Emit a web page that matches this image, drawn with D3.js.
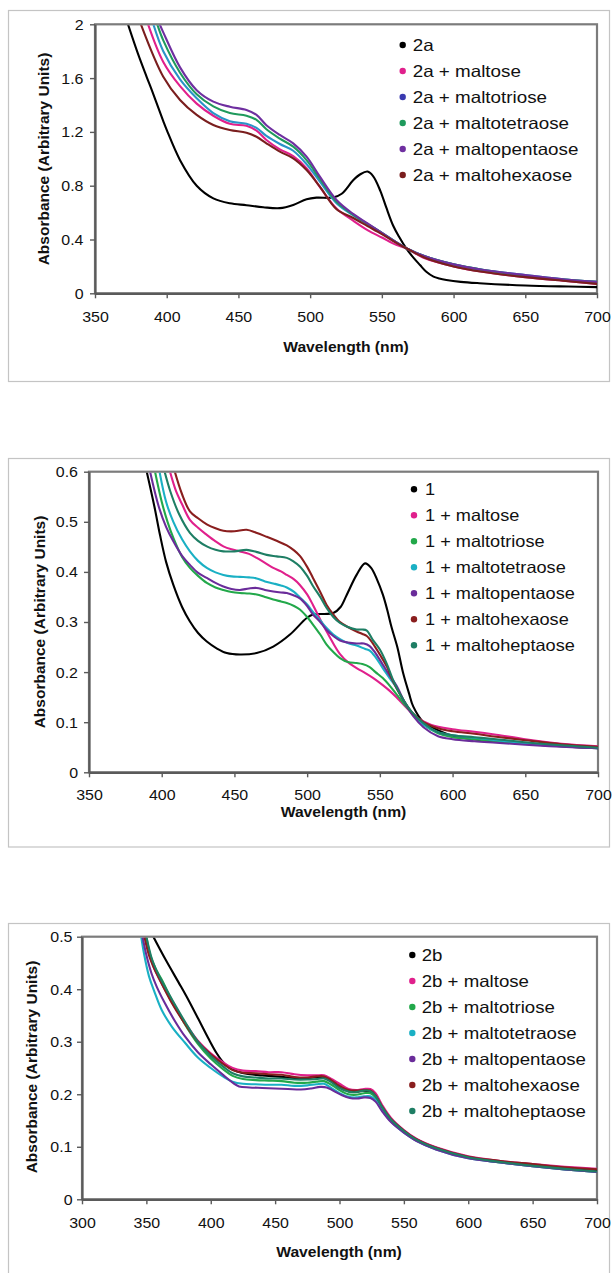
<!DOCTYPE html>
<html><head><meta charset="utf-8">
<script src="https://cdn.jsdelivr.net/npm/d3@7"></script>
<style>html,body{margin:0;padding:0;background:#fff;}</style>
</head><body>
<script>
// ---------------- DATA ----------------
// Panel 1 (2a)
const p1XTicks = [350,400,450,500,550,600,650,700];
const p1YTicks = [0,0.4,0.8,1.2,1.6,2];
const p1YLabels = ["0","0.4","0.8","1.2","1.6","2"];
const p1Names = ["2a","2a + maltose","2a + maltotriose","2a + maltotetraose","2a + maltopentaose","2a + maltohexaose"];
const p1Colors = ["#000000","#e0208c","#2a93c8","#1f9a5c","#6f2fa0","#7a1e1e"];
const p1Dots = ["#000000","#e0208c","#3a3ab0","#1f9a5c","#6f2fa0","#7a1e1e"];
const p1_2a = [[373,2.0],[380,1.78],[386,1.61],[390,1.5],[397.6,1.28],[400,1.215],[409.3,0.99],[420.9,0.8],[432.5,0.706],[444,0.669],[455.6,0.655],[467.3,0.64],[478.9,0.633],[488.2,0.657],[497.5,0.699],[504.4,0.711],[516,0.712],[522,0.74],[530,0.84],[535,0.885],[540,0.905],[544,0.87],[549,0.76],[553,0.64],[558,0.5],[562,0.42],[567,0.334],[572,0.265],[576.6,0.21],[581,0.16],[586,0.124],[590,0.11],[595,0.099],[605,0.085],[618,0.075],[650,0.058],[680,0.05],[700,0.046]];
const p1_maltose = [[387,2.0],[397.6,1.72],[409.3,1.54],[420.9,1.41],[432.5,1.32],[444,1.26],[455.6,1.245],[462.6,1.21],[469.5,1.14],[478.9,1.07],[488.2,1.02],[497.5,0.93],[506.8,0.79],[518.4,0.63],[530,0.54],[540,0.47],[550,0.415],[560,0.36],[567,0.335],[580,0.26],[600,0.2],[620,0.16],[650,0.12],[680,0.09],[700,0.07]];
const p1_maltotriose = [[390.7,2.0],[397.6,1.8],[409.3,1.59],[420.9,1.45],[432.5,1.34],[444,1.28],[455.6,1.26],[462.6,1.23],[469.5,1.17],[478.9,1.11],[488.2,1.06],[497.5,0.96],[506.8,0.83],[518.4,0.67],[530,0.58],[540,0.515],[550,0.45],[560,0.38],[567,0.335],[580,0.275],[600,0.215],[620,0.175],[650,0.135],[680,0.1],[700,0.085]];
const p1_maltotetraose = [[393.4,2.0],[397.6,1.88],[409.3,1.64],[420.9,1.48],[432.5,1.39],[444,1.34],[455.6,1.32],[462.6,1.29],[469.5,1.22],[478.9,1.15],[488.2,1.09],[497.5,0.99],[506.8,0.85],[518.4,0.68],[530,0.585],[540,0.515],[550,0.45],[560,0.38],[567,0.335],[580,0.275],[600,0.215],[620,0.175],[650,0.13],[680,0.1],[700,0.085]];
const p1_maltopentaose = [[395.1,2.0],[397.6,1.94],[409.3,1.68],[420.9,1.51],[432.5,1.425],[444,1.387],[455.6,1.363],[462.6,1.326],[469.5,1.25],[478.9,1.177],[488.2,1.115],[497.5,1.016],[506.8,0.867],[518.4,0.694],[530,0.59],[540,0.52],[550,0.45],[560,0.38],[567,0.335],[580,0.275],[600,0.215],[620,0.175],[650,0.135],[680,0.1],[700,0.085]];
const p1_maltohexaose = [[382,2.0],[397.6,1.61],[409.3,1.437],[420.9,1.326],[432.5,1.251],[444,1.214],[455.6,1.194],[462.6,1.164],[469.5,1.115],[478.9,1.053],[488.2,1.004],[497.5,0.917],[506.8,0.793],[518.4,0.625],[530,0.56],[540,0.5],[550,0.44],[560,0.375],[567,0.335],[580,0.265],[600,0.2],[620,0.16],[650,0.12],[680,0.09],[700,0.07]];

// Panel 2 (1)
const p2XTicks = [350,400,450,500,550,600,650,700];
const p2YTicks = [0,0.1,0.2,0.3,0.4,0.5,0.6];
const p2YLabels = ["0","0.1","0.2","0.3","0.4","0.5","0.6"];
const p2Names = ["1","1 + maltose","1 + maltotriose","1 + maltotetraose","1 + maltopentaose","1 + maltohexaose","1 + maltoheptaose"];
const p2Colors = ["#000000","#e0208c","#22a84a","#1ab0c4","#6a2c9a","#8a1e1e","#1e7e64"];
const p2_1 = [[389.7,0.6],[395,0.53],[398.8,0.474],[403,0.42],[408,0.374],[414,0.33],[419.4,0.301],[425,0.278],[431,0.261],[438,0.247],[444.7,0.238],[453.8,0.235],[465.3,0.238],[476.7,0.251],[488.2,0.275],[499.7,0.308],[504,0.315],[512,0.316],[518,0.318],[523,0.33],[527.2,0.354],[534,0.394],[539.8,0.417],[544,0.408],[548,0.385],[552,0.355],[555,0.325],[558,0.29],[562,0.25],[566,0.198],[570,0.158],[573,0.131],[580,0.1],[587,0.088],[600,0.073],[620,0.064],[650,0.057],[680,0.051],[700,0.048]];
const p2_maltose = [[405.7,0.6],[410,0.56],[414,0.535],[419.4,0.504],[425,0.488],[431,0.474],[437,0.461],[442.4,0.451],[448,0.445],[453.8,0.441],[460,0.436],[465.3,0.428],[471,0.418],[476.7,0.408],[482,0.401],[486,0.394],[491,0.385],[495,0.374],[500,0.355],[504,0.334],[509,0.305],[513.4,0.281],[518,0.257],[522.6,0.236],[528,0.22],[534,0.208],[540,0.198],[545.5,0.188],[552,0.174],[557,0.162],[562,0.148],[568,0.13],[575,0.11],[585,0.095],[600,0.086],[615,0.081],[630,0.075],[650,0.066],[675,0.057],[700,0.052]];
const p2_maltotriose = [[395.4,0.6],[400,0.54],[404,0.5],[408,0.468],[414,0.43],[419.4,0.408],[425,0.392],[431,0.378],[437,0.369],[442.4,0.364],[448,0.36],[453.8,0.358],[460,0.357],[465.3,0.355],[471,0.35],[476.7,0.345],[482,0.341],[486,0.338],[491,0.332],[495,0.325],[500,0.31],[504,0.295],[509,0.275],[513.4,0.255],[518,0.24],[522.6,0.228],[528,0.22],[534,0.218],[538,0.216],[543,0.21],[547,0.2],[552,0.188],[557,0.172],[561.6,0.155],[567,0.135],[573,0.115],[580,0.095],[590,0.078],[600,0.07],[615,0.066],[630,0.062],[650,0.057],[675,0.052],[700,0.049]];
const p2_maltotetraose = [[398.5,0.6],[403,0.54],[408,0.5],[414,0.465],[419.4,0.441],[425,0.422],[431,0.408],[437,0.399],[442.4,0.394],[448,0.391],[453.8,0.39],[460,0.389],[465.3,0.387],[471,0.381],[476.7,0.377],[482,0.373],[486,0.369],[491,0.36],[495,0.349],[500,0.335],[504,0.32],[509,0.303],[513.4,0.288],[518,0.275],[522.6,0.266],[528,0.258],[534,0.253],[540,0.246],[543,0.243],[547,0.23],[552,0.208],[557,0.187],[561.6,0.168],[567,0.14],[573,0.115],[580,0.095],[590,0.08],[600,0.074],[615,0.069],[630,0.064],[650,0.058],[675,0.053],[700,0.048]];
const p2_maltopentaose = [[392,0.6],[398,0.53],[403,0.49],[408,0.461],[414,0.432],[419.4,0.414],[425,0.398],[431,0.388],[437,0.378],[442.4,0.371],[448,0.366],[453.8,0.364],[460,0.367],[465.3,0.368],[471,0.364],[476.7,0.361],[482,0.359],[486,0.358],[491,0.353],[495,0.347],[500,0.332],[504,0.315],[509,0.3],[513.4,0.284],[518,0.272],[522.6,0.263],[528,0.259],[534,0.257],[539,0.257],[543,0.252],[547,0.238],[552,0.215],[557,0.192],[561.6,0.172],[567,0.14],[573,0.112],[580,0.09],[590,0.072],[600,0.066],[615,0.062],[630,0.059],[650,0.055],[675,0.051],[700,0.048]];
const p2_maltohexaose = [[409,0.6],[414,0.555],[419.4,0.521],[425,0.507],[431,0.495],[437,0.487],[442.4,0.482],[450,0.481],[458.4,0.484],[465,0.478],[472.2,0.47],[479,0.462],[486,0.453],[491,0.443],[495,0.432],[500,0.41],[504,0.388],[509,0.36],[513.4,0.334],[518,0.315],[522.6,0.3],[528,0.29],[534,0.281],[538,0.276],[541,0.272],[545,0.258],[550,0.235],[555,0.21],[559,0.182],[565,0.15],[572,0.12],[580,0.1],[590,0.088],[600,0.082],[615,0.077],[630,0.071],[650,0.064],[675,0.056],[700,0.051]];
const p2_maltoheptaose = [[402,0.6],[406,0.56],[412,0.515],[419.4,0.478],[425,0.462],[431,0.451],[437,0.444],[442.4,0.441],[450,0.441],[458.4,0.444],[465,0.44],[472.2,0.434],[479,0.431],[486,0.428],[491,0.42],[495,0.411],[500,0.392],[504,0.372],[509,0.35],[513.4,0.328],[518,0.31],[522.6,0.298],[528,0.29],[534,0.285],[538,0.285],[541,0.283],[545,0.265],[550,0.245],[555,0.215],[559,0.185],[565,0.15],[572,0.12],[580,0.098],[590,0.08],[600,0.074],[615,0.07],[630,0.066],[650,0.06],[675,0.054],[700,0.049]];

// Panel 3 (2b)
const p3XTicks = [300,350,400,450,500,550,600,650,700];
const p3YTicks = [0,0.1,0.2,0.3,0.4,0.5];
const p3YLabels = ["0","0.1","0.2","0.3","0.4","0.5"];
const p3Names = ["2b","2b + maltose","2b + maltotriose","2b + maltotetraose","2b + maltopentaose","2b + maltohexaose","2b + maltoheptaose"];
const p3Colors = ["#000000","#e0208c","#22a84a","#1ab0c4","#6a2c9a","#8a1e1e","#1e7e64"];
const p3_2b = [[355.4,0.5],[365,0.456],[375,0.413],[381,0.387],[390,0.345],[398,0.307],[404.6,0.278],[410,0.26],[415,0.25],[420,0.244],[430,0.238],[440,0.236],[450,0.234],[460,0.232],[470,0.23],[480,0.232],[487,0.232],[493,0.226],[500,0.214],[507,0.206],[513,0.205],[519,0.207],[524,0.205],[528,0.195],[533,0.175],[540,0.152],[550,0.13],[560,0.114],[575,0.098],[600,0.08],[625,0.072],[650,0.066],[675,0.06],[700,0.055]];
const p3_maltose = [[349,0.5],[352,0.47],[356,0.44],[360,0.42],[370,0.375],[380,0.336],[390,0.302],[400,0.278],[410,0.26],[417,0.25],[425,0.245],[435,0.244],[445,0.242],[455,0.242],[465,0.238],[475,0.236],[482,0.236],[488,0.236],[493,0.23],[500,0.22],[507,0.21],[513,0.208],[519,0.21],[524,0.21],[528,0.202],[533,0.18],[540,0.155],[550,0.132],[560,0.115],[575,0.099],[600,0.082],[625,0.073],[650,0.067],[675,0.062],[700,0.058]];
const p3_maltotriose = [[350,0.5],[353,0.465],[357,0.44],[362,0.418],[370,0.378],[380,0.333],[390,0.296],[400,0.268],[410,0.247],[417,0.235],[425,0.229],[435,0.227],[445,0.226],[455,0.225],[465,0.222],[475,0.222],[482,0.224],[488,0.225],[493,0.219],[500,0.208],[507,0.2],[513,0.199],[519,0.202],[524,0.202],[528,0.194],[533,0.174],[540,0.15],[550,0.129],[560,0.112],[575,0.096],[600,0.079],[625,0.07],[650,0.063],[675,0.057],[700,0.052]];
const p3_maltotetraose = [[346,0.5],[348,0.47],[352,0.425],[356,0.397],[362,0.36],[370,0.328],[380,0.298],[390,0.27],[400,0.25],[410,0.233],[417,0.224],[425,0.22],[435,0.219],[445,0.218],[455,0.218],[465,0.216],[475,0.217],[482,0.219],[488,0.22],[493,0.213],[500,0.202],[507,0.195],[513,0.194],[519,0.196],[524,0.196],[528,0.189],[533,0.17],[540,0.148],[550,0.127],[560,0.111],[575,0.095],[600,0.078],[625,0.07],[650,0.063],[675,0.057],[700,0.052]];
const p3_maltopentaose = [[347,0.5],[350,0.465],[354,0.43],[358,0.405],[364,0.375],[372,0.34],[380,0.31],[390,0.28],[400,0.257],[410,0.236],[417,0.222],[422,0.215],[430,0.213],[440,0.212],[450,0.211],[460,0.21],[470,0.209],[478,0.211],[485,0.214],[490,0.213],[495,0.207],[502,0.198],[508,0.193],[514,0.192],[519,0.194],[524,0.193],[528,0.186],[533,0.168],[540,0.147],[550,0.127],[560,0.111],[575,0.095],[600,0.078],[625,0.07],[650,0.063],[675,0.057],[700,0.052]];
const p3_maltohexaose = [[348.5,0.5],[352,0.465],[356,0.44],[360,0.42],[370,0.373],[380,0.334],[390,0.3],[400,0.276],[410,0.257],[417,0.246],[425,0.241],[435,0.24],[445,0.238],[455,0.237],[465,0.233],[475,0.232],[482,0.234],[488,0.234],[493,0.228],[500,0.216],[507,0.208],[513,0.207],[519,0.208],[524,0.207],[528,0.198],[533,0.177],[540,0.153],[550,0.131],[560,0.114],[575,0.098],[600,0.081],[625,0.073],[650,0.067],[675,0.061],[700,0.057]];
const p3_maltoheptaose = [[350,0.5],[354,0.46],[358,0.435],[362,0.415],[370,0.38],[380,0.338],[390,0.3],[400,0.273],[410,0.252],[417,0.24],[425,0.234],[435,0.232],[445,0.23],[455,0.23],[465,0.228],[475,0.228],[482,0.229],[488,0.23],[493,0.224],[500,0.212],[507,0.205],[513,0.204],[519,0.207],[524,0.206],[528,0.197],[533,0.176],[540,0.152],[550,0.13],[560,0.113],[575,0.097],[600,0.08],[625,0.071],[650,0.064],[675,0.058],[700,0.053]];

const xTitleText = "Wavelength (nm)";
const yTitleText = "Absorbance (Arbitrary Units)";

// ---------------- DRAWING ----------------
const FONT = '"Liberation Sans", Arial, Helvetica, sans-serif';
const svg = d3.select("body").append("svg").attr("width",613).attr("height",1273)
  .style("display","block").style("background","#fff");

function stretch(sel, k){
  sel.each(function(){
    const w = this.getComputedTextLength();
    this.setAttribute("textLength", (w*k).toFixed(2));
    this.setAttribute("lengthAdjust","spacingAndGlyphs");
  });
}

const panels = [
  {id:1, box:[8.5,10.5,601,371], plot:{l:95,t:24.3,r:597,b:293.3}, xDomain:[350,700], xTicks:p1XTicks,
   yDomain:[0,2], yTicks:p1YTicks, yLabels:p1YLabels, xLabelY:317, yLabelRight:83.5,
   xTitle:[346,347], yTitle:[43,159], leg:{dotX:402.7,textX:412.7,y0:45,dy:26,k:1.14},
   series:[p1_2a,p1_maltose,p1_maltotriose,p1_maltotetraose,p1_maltopentaose,p1_maltohexaose],
   names:p1Names, colors:p1Colors, dots:p1Dots},
  {id:2, box:[8.5,458.5,601,388.5], plot:{l:89,t:471.7,r:598,b:772.3}, xDomain:[350,700], xTicks:p2XTicks,
   yDomain:[0,0.6], yTicks:p2YTicks, yLabels:p2YLabels, xLabelY:795, yLabelRight:78,
   xTitle:[343.5,811.7], yTitle:[39,622], leg:{dotX:414,textX:425,y0:489.3,dy:26,k:1.1},
   series:[p2_1,p2_maltose,p2_maltotriose,p2_maltotetraose,p2_maltopentaose,p2_maltohexaose,p2_maltoheptaose],
   names:p2Names, colors:p2Colors, dots:p2Colors},
  {id:3, box:[8.5,923.5,601,400], plot:{l:82,t:936.7,r:597,b:1199.3}, xDomain:[300,700], xTicks:p3XTicks,
   yDomain:[0,0.5], yTicks:p3YTicks, yLabels:p3YLabels, xLabelY:1223.3, yLabelRight:72.5,
   xTitle:[339,1251.7], yTitle:[31.3,1067], leg:{dotX:412.3,textX:421.7,y0:955,dy:26,k:1.13},
   series:[p3_2b,p3_maltose,p3_maltotriose,p3_maltotetraose,p3_maltopentaose,p3_maltohexaose,p3_maltoheptaose],
   names:p3Names, colors:p3Colors, dots:p3Colors}
];

panels.forEach(cfg => {
  const P = cfg.plot;
  const x = d3.scaleLinear().domain(cfg.xDomain).range([P.l, P.r]);
  const y = d3.scaleLinear().domain(cfg.yDomain).range([P.b, P.t]);
  const g = svg.append("g");

  g.append("rect").attr("x",cfg.box[0]).attr("y",cfg.box[1]).attr("width",cfg.box[2]).attr("height",cfg.box[3])
    .attr("fill","#fff").attr("stroke","#c4c4c4").attr("stroke-width",1.2);

  g.append("rect").attr("x",P.l).attr("y",P.t).attr("width",P.r-P.l).attr("height",P.b-P.t)
    .attr("fill","#fff").attr("stroke","#7c7c7c").attr("stroke-width",2.2);

  const clipId = "clip"+cfg.id;
  svg.append("clipPath").attr("id",clipId).append("rect")
    .attr("x",P.l).attr("y",P.t+1).attr("width",P.r-P.l).attr("height",P.b-P.t-1);

  const line = d3.line().x(d=>x(d[0])).y(d=>y(d[1])).curve(d3.curveCatmullRom.alpha(0.5));
  const lg = g.append("g").attr("clip-path",`url(#${clipId})`);
  cfg.series.forEach((s,i)=>{
    lg.append("path").datum(s).attr("d",line).attr("fill","none")
      .attr("stroke",cfg.colors[i]).attr("stroke-width",2.1)
      .attr("stroke-linejoin","round").attr("stroke-linecap","round");
  });

  // axes
  const gx = g.append("g").attr("transform",`translate(0,${P.b})`)
    .call(d3.axisBottom(x).tickValues(cfg.xTicks).tickSize(5).tickSizeOuter(0).tickFormat(d3.format("d")));
  gx.attr("font-family",FONT).attr("font-size",14);
  gx.select(".domain").attr("stroke","#5a5a5a").attr("stroke-width",2.2);
  gx.selectAll(".tick line").attr("stroke","#5a5a5a").attr("stroke-width",1.4);
  gx.selectAll(".tick text").attr("y",cfg.xLabelY-P.b).attr("dy","0.36em").attr("fill","#111").call(stretch,1.14);

  const gy = g.append("g").attr("transform",`translate(${P.l},0)`)
    .call(d3.axisLeft(y).tickValues(cfg.yTicks).tickSize(5).tickSizeOuter(0).tickFormat((d,i)=>cfg.yLabels[i]));
  gy.attr("font-family",FONT).attr("font-size",14);
  gy.select(".domain").attr("stroke","#5a5a5a").attr("stroke-width",2.2);
  gy.selectAll(".tick line").attr("stroke","#5a5a5a").attr("stroke-width",1.4);
  gy.selectAll(".tick text").attr("x",cfg.yLabelRight-P.l).attr("dy","0.35em").attr("fill","#111").call(stretch,1.14);

  // titles
  g.append("text").attr("x",cfg.xTitle[0]).attr("y",cfg.xTitle[1]).attr("dy","0.36em")
    .attr("text-anchor","middle").attr("font-family",FONT).attr("font-weight","bold").attr("font-size",14.5)
    .attr("fill","#111").text(xTitleText).call(stretch,1.08);
  g.append("text").attr("transform",`translate(${cfg.yTitle[0]},${cfg.yTitle[1]}) rotate(-90)`)
    .attr("dy","0.36em").attr("text-anchor","middle").attr("font-family",FONT).attr("font-weight","bold")
    .attr("font-size",15.5).attr("fill","#111").text(yTitleText);

  // legend
  const L = cfg.leg;
  cfg.names.forEach((n,i)=>{
    const yy = L.y0 + i*L.dy;
    g.append("circle").attr("cx",L.dotX).attr("cy",yy).attr("r",3.2).attr("fill",cfg.dots[i]);
    g.append("text").attr("x",L.textX).attr("y",yy).attr("dy","0.36em").attr("font-family",FONT)
      .attr("font-size",16.5).attr("fill","#111").text(n).call(stretch,L.k);
  });
});
</script>
</body></html>
